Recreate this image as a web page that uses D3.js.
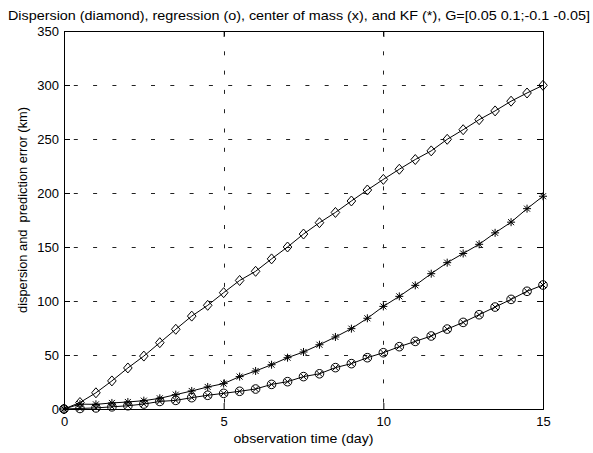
<!DOCTYPE html>
<html>
<head>
<meta charset="utf-8">
<script src="https://cdn.jsdelivr.net/npm/d3@7"></script>
<style>
  body { margin: 0; background: #fff; }
  text { font-family: "Liberation Sans", Arial, sans-serif; white-space: pre; }
</style>
</head>
<body>
<div id="chart"></div>
<script>
// observation time in days, one sample every half day
const days = d3.range(0, 15.01, 0.5);

// dispersion (diamond)
const dispersion = [0, 6, 15, 26, 38, 49, 61.4, 73.8, 86, 96, 107.7, 119, 127.5, 139, 150, 162,
  172.5, 182, 192.6, 202.8, 212.6, 222, 231, 239, 249.7, 258.6, 267.9, 276, 285, 292.6, 299.7];
// KF (*)
const kalman = [0, 4.5, 4.3, 5.6, 6.5, 7.7, 9.9, 13.3, 16.7, 20.4, 23.5, 30, 35.2, 41, 47.5, 52.8,
  59.5, 66.7, 74.4, 84, 95, 104.3, 114.5, 125.3, 135.5, 144, 152.5, 163.1, 173, 185.5, 197];
// regression (o) / center of mass (x)
const regression = [0, 0.5, 1, 2, 3, 4.6, 7, 8, 10.5, 12.7, 14.5, 16.4, 18.5, 22.8, 25.3, 30,
  32.6, 38.3, 42, 47.5, 52.1, 57.7, 62.6, 67.6, 74, 80.2, 87.3, 94.4, 101.5, 109, 114.8];

const xTicks = [0, 5, 10, 15];
const yTicks = [0, 50, 100, 150, 200, 250, 300, 350];

const width = 593, height = 453;
const margin = {top: 31, right: 50, bottom: 44, left: 64};

const svg = d3.select("#chart").append("svg")
  .attr("width", width)
  .attr("height", height);

const x = d3.scaleLinear().domain([0, 15]).range([margin.left, width - margin.right]);
const y = d3.scaleLinear().domain([0, 350]).range([height - margin.bottom, margin.top]);

const x0 = x(0), x1 = x(15), y0 = y(0), y1 = y(350);

// grid lines (sparse dashes, vertical drawn from the top, horizontal from the right)
const grid = svg.append("g")
  .attr("stroke", "#222")
  .attr("stroke-width", 1)
  .attr("stroke-dasharray", "4,15.3");

grid.selectAll("line.gx")
  .data(xTicks.slice(1, -1))
  .join("line")
  .attr("x1", d => Math.round(x(d)) + 0.5)
  .attr("x2", d => Math.round(x(d)) + 0.5)
  .attr("y1", y1 + 1)
  .attr("y2", y0);

grid.selectAll("line.gy")
  .data(yTicks.slice(1, -1))
  .join("line")
  .attr("stroke-dashoffset", 17.3)
  .attr("x1", x1)
  .attr("x2", x0)
  .attr("y1", d => Math.round(y(d)) + 0.5)
  .attr("y2", d => Math.round(y(d)) + 0.5);

// axes, ticks pointing inward like matlab
const xAxis = svg.append("g")
  .attr("transform", `translate(0,${y0})`)
  .call(d3.axisBottom(x).tickValues(xTicks).tickSize(-6).tickPadding(8).tickFormat(d3.format("d")));
const yAxis = svg.append("g")
  .attr("transform", `translate(${x0},0)`)
  .call(d3.axisLeft(y).tickValues(yTicks).tickSize(-6).tickPadding(5).tickFormat(d3.format("d")));
const xTop = svg.append("g")
  .attr("transform", `translate(0,${y1})`)
  .call(d3.axisTop(x).tickValues(xTicks).tickSize(-6).tickFormat(""));
const yRight = svg.append("g")
  .attr("transform", `translate(${x1},0)`)
  .call(d3.axisRight(y).tickValues(yTicks).tickSize(-6).tickFormat(""));

[xAxis, yAxis, xTop, yRight].forEach(g => {
  g.selectAll("text").attr("font-size", 13).attr("fill", "#000")
    .attr("font-family", "Liberation Sans, Arial, sans-serif");
  g.select(".domain").attr("stroke", "#000");
});

const line = d3.line().x((d, i) => x(days[i])).y(d => y(d));

const series = [
  {values: dispersion, marker: "diamond"},
  {values: kalman, marker: "star"},
  {values: regression, marker: "circlex"}
];

series.forEach(s => {
  svg.append("path")
    .datum(s.values)
    .attr("fill", "none")
    .attr("stroke", "#000")
    .attr("stroke-width", 1)
    .attr("d", line);
});

const markers = svg.append("g")
  .attr("fill", "none")
  .attr("stroke", "#000")
  .attr("stroke-width", 1);

// diamonds
markers.selectAll("path.dia")
  .data(dispersion)
  .join("path")
  .attr("transform", (d, i) => `translate(${x(days[i])},${y(d)})`)
  .attr("d", "M0,-5L4.3,0L0,5L-4.3,0Z");

// stars: + and x overlaid
markers.selectAll("path.star")
  .data(kalman)
  .join("path")
  .attr("transform", (d, i) => `translate(${x(days[i])},${y(d)})`)
  .attr("d", "M-4,0L4,0M0,-4L0,4M-3,-3L3,3M-3,3L3,-3");

// circles with an x inside
markers.selectAll("circle.reg")
  .data(regression)
  .join("circle")
  .attr("cx", (d, i) => x(days[i]))
  .attr("cy", d => y(d))
  .attr("r", 4.3);
markers.selectAll("path.com")
  .data(regression)
  .join("path")
  .attr("transform", (d, i) => `translate(${x(days[i])},${y(d)})`)
  .attr("d", "M-3,-3L3,3M-3,3L3,-3");

// labels
svg.append("text")
  .attr("x", 299)
  .attr("y", 20)
  .attr("text-anchor", "middle")
  .attr("font-size", 13)
  .attr("textLength", 582)
  .attr("lengthAdjust", "spacingAndGlyphs")
  .text("Dispersion (diamond), regression (o), center of mass (x), and KF (*), G=[0.05 0.1;-0.1 -0.05]");

svg.append("text")
  .attr("x", (x0 + x1) / 2)
  .attr("y", 443)
  .attr("text-anchor", "middle")
  .attr("font-size", 13.5)
  .attr("textLength", 140)
  .attr("lengthAdjust", "spacingAndGlyphs")
  .text("observation time (day)");

svg.append("text")
  .attr("transform", `translate(27,210) rotate(-90)`)
  .attr("text-anchor", "middle")
  .attr("font-size", 13.5)
  .attr("textLength", 206)
  .attr("lengthAdjust", "spacingAndGlyphs")
  .text("dispersion and  prediction error (km)");
</script>
</body>
</html>
